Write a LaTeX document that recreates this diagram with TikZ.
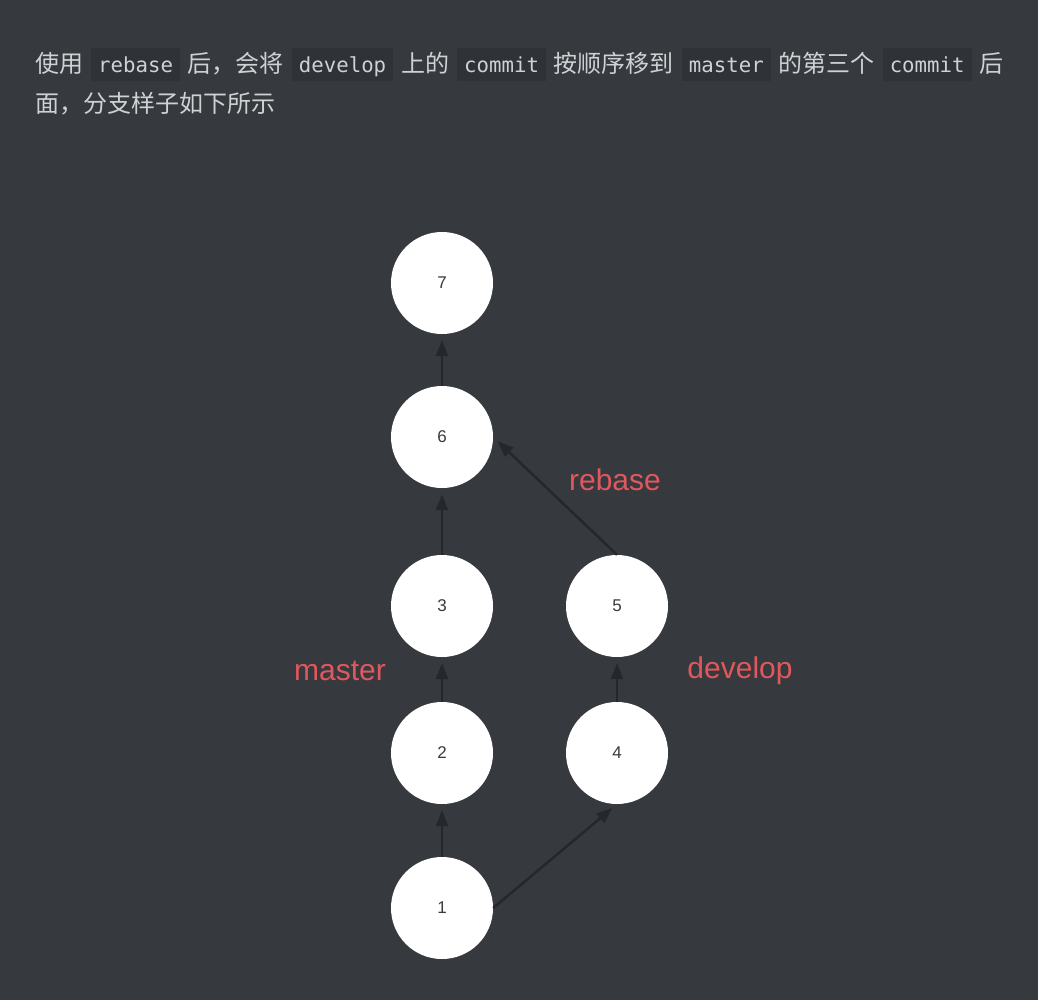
\documentclass[tikz,border=0pt]{standalone}
\usepackage{fontspec}
\usetikzlibrary{arrows.meta}
\setmainfont{Noto Sans CJK SC}
\setmonofont{DejaVu Sans Mono}
\newfontfamily\numfont{Liberation Sans}
\newfontfamily\labfont{Liberation Sans}
\definecolor{bgc}{HTML}{36393E}
\definecolor{codebg}{HTML}{2F3237}
\definecolor{txtc}{HTML}{D0D1D3}
\definecolor{redc}{HTML}{E0585D}
\definecolor{arrc}{HTML}{25272B}
\definecolor{numc}{HTML}{3A3A3A}
\newcommand\codespan[1]{\hspace{8pt}{\setlength\fboxsep{0pt}\colorbox{codebg}{\rule[-8pt]{0pt}{33pt}\hspace{7pt}{\ttfamily\fontsize{20.7pt}{24pt}\selectfont #1}\hspace{7pt}}}\hspace{8pt}}
\begin{document}
\begin{tikzpicture}[x=1pt,y=-1pt,
  commit/.style={circle,fill=white,minimum size=102pt,inner sep=0pt,font=\numfont\fontsize{17pt}{19pt}\selectfont,text=numc},
  link/.style={draw=arrc,line width=2.5pt,-{Triangle[length=16pt,width=12pt]},shorten >=6pt},
  branch/.style={font=\labfont\fontsize{30pt}{34pt}\selectfont,text=redc}]
\fill[bgc] (0,0) rectangle (1038,1000);
\useasboundingbox (0,0) rectangle (1038,1000);
\node[anchor=base west,inner sep=0pt,text=txtc,font=\fontsize{24pt}{28pt}\selectfont] (line1) at (35,73)
  {使用\codespan{rebase}后，会将\codespan{develop}上的\codespan{commit}按顺序移到\codespan{master}的第三个\codespan{commit}后};
\node[anchor=base west,inner sep=0pt,text=txtc,font=\fontsize{24pt}{28pt}\selectfont] (line2) at (35,113)
  {面，分支样子如下所示};
\node[commit] (c7) at (442,283) {7};
\node[commit] (c6) at (442,437) {6};
\node[commit] (c3) at (442,606) {3};
\node[commit] (c5) at (617,606) {5};
\node[commit] (c2) at (442,753) {2};
\node[commit] (c4) at (617,753) {4};
\node[commit] (c1) at (442,908) {1};
\draw[link] (c1.north) -- (c2.south);
\draw[link] (c2.north) -- (c3.south);
\draw[link] (c3.north) -- (c6.south);
\draw[link] (c6.north) -- (c7.south);
\draw[link] (c4.north) -- (c5.south);
\draw[link] (c1.east) -- (c4.south);
\draw[link] (c5.north) -- (c6.east);
\node[branch] (lrebase) at (615,480) {rebase};
\node[branch] (lmaster) at (340,671) {master};
\node[branch] (ldevelop) at (740,671) {develop};
\end{tikzpicture}
\end{document}
